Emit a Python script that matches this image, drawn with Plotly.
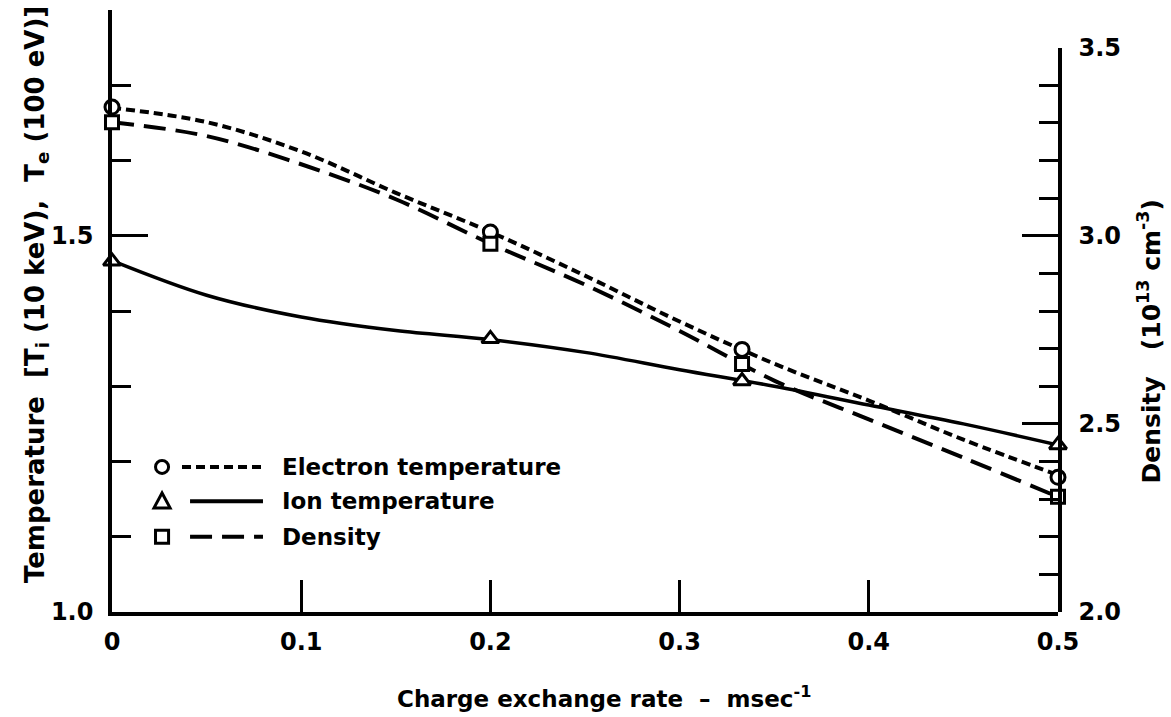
import plotly.graph_objects as go

# ---- data ----
x_points = [0.0, 0.2, 0.333, 0.5]
electron_points = [1.671, 1.505, 1.349, 1.179]
ion_points = [1.466, 1.363, 1.307, 1.222]
density_points = [3.302, 2.979, 2.659, 2.306]

x_curve = [0.0, 0.05, 0.1, 0.15, 0.2, 0.25, 0.3, 0.35, 0.4, 0.45, 0.5]
electron_curve = [1.670, 1.651, 1.612, 1.557, 1.505, 1.447, 1.386, 1.330, 1.281, 1.229, 1.182]
ion_curve = [1.467, 1.421, 1.392, 1.374, 1.362, 1.345, 1.322, 1.300, 1.275, 1.250, 1.222]
density_curve = [3.302, 3.265, 3.190, 3.097, 2.979, 2.870, 2.747, 2.615, 2.512, 2.410, 2.306]

x_ticks = [0, 0.1, 0.2, 0.3, 0.4, 0.5]
x_ticktext = ["0", "0.1", "0.2", "0.3", "0.4", "0.5"]
left_ticks = [1.0, 1.5]
left_ticktext = ["1.0", "1.5"]
right_ticks = [2.0, 2.5, 3.0, 3.5]
right_ticktext = ["2.0", "2.5", "3.0", "3.5"]

legend_names = ["Electron temperature", "Ion temperature", "Density"]

FONT = "DejaVu Sans, Liberation Sans, sans-serif"
BLACK = "#000000"
CLEAR = "rgba(0,0,0,0)"

fig = go.Figure()

# curves
fig.add_trace(go.Scatter(x=x_curve, y=electron_curve, mode="lines",
                         line=dict(color=BLACK, width=4, dash="9px,5px", shape="spline", smoothing=1.0),
                         yaxis="y", showlegend=False, cliponaxis=False))
fig.add_trace(go.Scatter(x=x_curve, y=ion_curve, mode="lines",
                         line=dict(color=BLACK, width=3.5, shape="spline", smoothing=1.0),
                         yaxis="y", showlegend=False, cliponaxis=False))
fig.add_trace(go.Scatter(x=x_curve, y=density_curve, mode="lines",
                         line=dict(color=BLACK, width=4, dash="22px,10px", shape="spline", smoothing=1.0),
                         yaxis="y2", showlegend=False, cliponaxis=False))

# markers
mk_line = dict(color=BLACK, width=3)
fig.add_trace(go.Scatter(x=x_points, y=electron_points, mode="markers",
                         marker=dict(symbol="circle", size=14, color="white", line=mk_line),
                         yaxis="y", showlegend=False, cliponaxis=False))
fig.add_trace(go.Scatter(x=x_points, y=ion_points, mode="markers",
                         marker=dict(symbol="triangle-up", size=15, color="white", line=mk_line),
                         yaxis="y", showlegend=False, cliponaxis=False))
fig.add_trace(go.Scatter(x=x_points, y=density_points, mode="markers",
                         marker=dict(symbol="square", size=13, color="white", line=mk_line),
                         yaxis="y2", showlegend=False, cliponaxis=False))

# ---- hand-drawn style legend (paper-fraction positions) ----
leg_rows_y = [0.241, 0.184, 0.125]
leg_line_x0 = [0.074, 0.0825, 0.0825]
leg_line_x1 = 0.1596
leg_dash = ["9px,5px", "solid", "22px,10px"]
mk_shape_line = dict(color=BLACK, width=3)
shapes = [
    dict(type="circle", xref="paper", yref="paper",
         x0=0.0529 - 0.0069, x1=0.0529 + 0.0069, y0=0.241 - 0.0108, y1=0.241 + 0.0108,
         line=mk_shape_line, fillcolor="white"),
    dict(type="path", xref="paper", yref="paper",
         path="M 0.0444,0.1729 L 0.0614,0.1729 L 0.0529,0.1978 Z",
         line=mk_shape_line, fillcolor="white"),
    dict(type="rect", xref="paper", yref="paper",
         x0=0.0529 - 0.0069, x1=0.0529 + 0.0069, y0=0.125 - 0.0108, y1=0.125 + 0.0108,
         line=mk_shape_line, fillcolor="white"),
]
for y0, x0, d in zip(leg_rows_y, leg_line_x0, leg_dash):
    shapes.append(dict(type="line", xref="paper", yref="paper", x0=x0, x1=leg_line_x1, y0=y0, y1=y0,
                       line=dict(color=BLACK, width=4, dash=d)))

annotations = []
for y0, name in zip(leg_rows_y, legend_names):
    annotations.append(dict(text=name, xref="paper", yref="paper", x=0.1776, y=y0,
                            xanchor="left", yanchor="middle", showarrow=False,
                            font=dict(family=FONT, size=23, color=BLACK, weight="bold")))

# axis titles
annotations.append(dict(text="Temperature  [T<sub>i</sub> (10 keV),  T<sub>e</sub> (100 eV)]",
                        xref="paper", yref="paper", x=-0.080, y=0.527, textangle=-90,
                        xanchor="center", yanchor="middle", showarrow=False,
                        font=dict(family=FONT, size=26, color=BLACK, weight="bold")))
annotations.append(dict(text="Density   (10<sup>13</sup> cm<sup>-3</sup>)",
                        xref="paper", yref="paper", x=1.097, y=0.449, textangle=-90,
                        xanchor="center", yanchor="middle", showarrow=False,
                        font=dict(family=FONT, size=25, color=BLACK, weight="bold")))
annotations.append(dict(text="Charge exchange rate  –  msec<sup>-1</sup>",
                        xref="paper", yref="paper", x=0.52, y=-0.141,
                        xanchor="center", yanchor="middle", showarrow=False,
                        font=dict(family=FONT, size=23, color=BLACK, weight="bold")))

tickfont = dict(family=FONT, size=24, color=BLACK, weight="bold")

fig.update_layout(
    width=1171, height=717,
    margin=dict(l=112, r=113, t=10, b=105),
    paper_bgcolor="white", plot_bgcolor=CLEAR,
    showlegend=False,
    shapes=shapes,
    annotations=annotations,
    xaxis=dict(range=[0, 0.5], tickvals=x_ticks, ticktext=x_ticktext,
               ticks="inside", ticklen=32, tickwidth=2.5, tickcolor=BLACK,
               showline=True, linewidth=3.5, linecolor=BLACK, showgrid=False, zeroline=False,
               tickfont=tickfont, ticklabelstandoff=5, anchor="y", automargin=False),
    yaxis=dict(range=[1.0, 1.8], tickvals=left_ticks, ticktext=left_ticktext,
               ticks="inside", ticklen=36, tickwidth=2.5, tickcolor=BLACK,
               minor=dict(dtick=0.1, tick0=1.0, ticks="inside", ticklen=19, tickwidth=2.5, tickcolor=BLACK, showgrid=False),
               showline=True, linewidth=3.5, linecolor=BLACK, showgrid=False, zeroline=False,
               tickfont=tickfont, ticklabelstandoff=10, anchor="x", domain=[0, 1], automargin=False),
    yaxis2=dict(range=[2.0, 3.5], tickvals=right_ticks, ticktext=right_ticktext,
                ticks="inside", ticklen=36, tickwidth=2.5, tickcolor=BLACK,
                minor=dict(dtick=0.1, tick0=2.0, ticks="inside", ticklen=19, tickwidth=2.5, tickcolor=BLACK, showgrid=False),
                showline=True, linewidth=3.5, linecolor=BLACK, showgrid=False, zeroline=False,
                tickfont=tickfont, ticklabelstandoff=12, side="right", anchor="x", domain=[0, 0.9375],
                automargin=False),
)

fig.write_html("out.html")
